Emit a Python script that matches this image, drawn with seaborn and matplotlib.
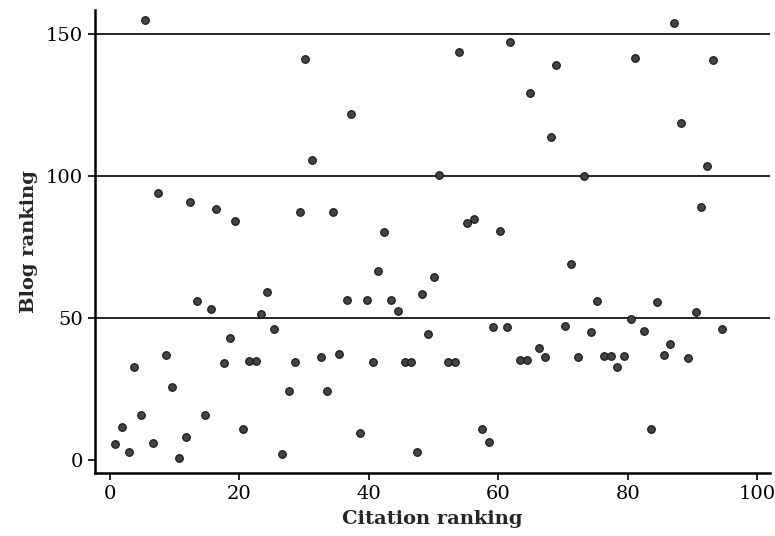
import matplotlib
matplotlib.use('Agg')
import matplotlib.pyplot as plt
import seaborn as sns
import pandas as pd

# Valores
citation_rank = [0.8, 1.9, 2.9, 3.7, 4.8, 5.4, 6.7, 7.4, 8.7, 9.6,
                 10.6, 11.7, 12.4, 13.5, 14.7, 15.6, 16.4, 17.7, 18.5, 19.3,
                 20.6, 21.5, 22.5, 23.3, 24.3, 25.3, 26.6, 27.6, 28.6, 29.4,
                 30.2, 31.3, 32.6, 33.6, 34.4, 35.4, 36.6, 37.2, 38.7, 39.7,
                 40.7, 41.5, 42.3, 43.5, 44.5, 45.6, 46.6, 47.4, 48.3, 49.2,
                 50.1, 50.9, 52.2, 53.3, 53.9, 55.1, 56.2, 57.5, 58.5, 59.2,
                 60.2, 61.3, 61.8, 63.4, 64.4, 64.9, 66.3, 67.3, 68.1, 68.9,
                 70.3, 71.3, 72.3, 73.2, 74.4, 75.3, 76.4, 77.4, 78.4, 79.4,
                 80.5, 81.2, 82.5, 83.6, 84.5, 85.6, 86.6, 87.2, 88.2, 89.4,
                 90.5, 91.3, 92.2, 93.2, 94.5]
blog_rank = [5.7, 11.7, 2.7, 32.7, 15.7, 155, 6.1, 94, 36.9, 25.8,
             0.7, 8, 91, 56, 16, 53, 88.3, 34.3, 43, 84.3,
             10.9, 35, 35, 51.4, 59, 46, 2.1, 24.3, 34.4, 87.2,
             141.3, 105.6, 36.3, 24.4, 87.4, 37.3, 56.2, 122, 9.5, 56.3,
             34.4, 66.4, 80.4, 56.4, 52.5, 34.5, 34.5, 2.7, 58.6, 44.5,
             64.5, 100.4, 34.6, 34.6, 143.8, 83.6, 84.7, 10.8, 6.2, 46.7,
             80.7, 46.9, 147.2, 35.2, 35.2, 129.1, 39.4, 36.2, 113.8, 139.2,
             47.2, 68.9, 36.4, 100, 45.2, 56.1, 36.5, 36.5, 32.6, 36.6,
             49.5, 141.4, 45.5, 10.8, 55.7, 36.9, 40.8, 154, 118.8, 35.9,
             52.2, 89, 103.5, 140.8, 46]

x_ticks = [0, 20, 40, 60, 80, 100]
y_ticks = [0, 50, 100, 150]

data = pd.DataFrame({'Citation ranking': citation_rank, 'Blog ranking': blog_rank})

sns.set_style('ticks')
plt.rcParams['font.family'] = ['DejaVu Serif']

fig = plt.figure(figsize=(7.75, 5.36), dpi=100)
ax = fig.add_axes([0.1226, 0.1175, 0.871, 0.864])

# Líneas horizontales de referencia
for yv in y_ticks[1:]:
    ax.axhline(yv, color='black', linewidth=1.2, zorder=1)

sns.scatterplot(data=data, x='Citation ranking', y='Blog ranking', ax=ax,
                color='#444444', edgecolor='#111111', linewidth=0.8, s=30, zorder=3)

ax.set_xlim(-2.3, 102)
ax.set_ylim(-4.6, 158.5)
ax.set_xticks(x_ticks)
ax.set_yticks(y_ticks)
ax.tick_params(axis='both', labelsize=14, length=5, width=1.2, colors='black')
ax.set_xlabel('Citation ranking', fontsize=14, fontweight='bold', labelpad=5)
ax.set_ylabel('Blog ranking', fontsize=14, fontweight='bold', labelpad=6)

sns.despine(ax=ax)
for side in ['left', 'bottom']:
    ax.spines[side].set_linewidth(1.8)
    ax.spines[side].set_color('black')

fig.savefig('out.png', dpi=100)
